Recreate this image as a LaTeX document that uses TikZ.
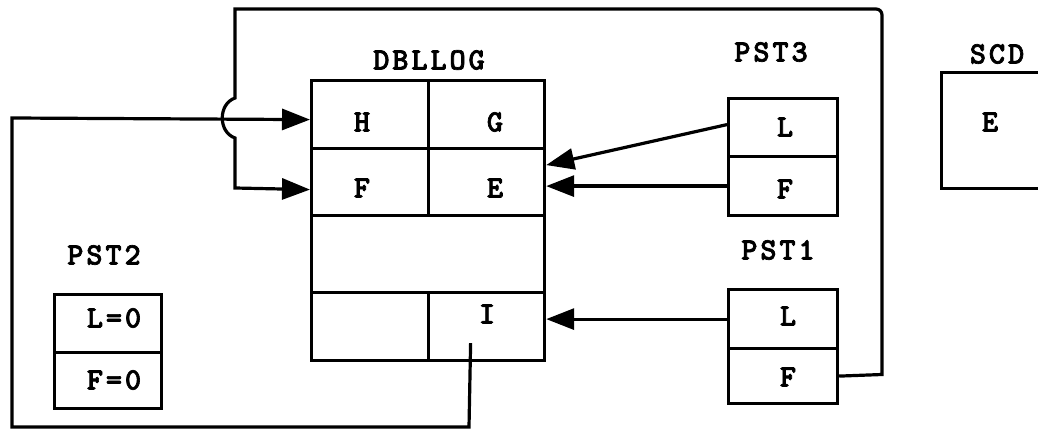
\documentclass[tikz,border=0pt]{standalone}
\usepackage{fontspec}
\newfontfamily\tw{lmmonolt10-bold.otf}[LetterSpace=9, FakeBold=2.2]
\usetikzlibrary{arrows.meta}
\tikzset{
  cell/.style={draw, line width=3.2pt, inner sep=0pt, anchor=north west},
  tx/.style={font=\tw\fontsize{31}{31}\selectfont, inner sep=0pt},
  wire/.style={line width=3.2pt},
  arr/.style={wire, -{Triangle[length=28pt,width=21pt]}}
}
\begin{document}
\begin{tikzpicture}[x=1pt,y=-1pt]
\useasboundingbox (0,0) rectangle (1038,430);
\fill[white] (0,0) rectangle (1038,430);
\clip (0,0) rectangle (1038,430);
% DBLLOG
\node[cell, minimum width=117pt, minimum height=68pt] (cH) at (310,79) {};
\node[cell, minimum width=116pt, minimum height=68pt] (cG) at (427,79) {};
\node[cell, minimum width=117pt, minimum height=67pt] (cF) at (310,147) {};
\node[cell, minimum width=116pt, minimum height=67pt] (cE) at (427,147) {};
\node[cell, minimum width=233pt, minimum height=77pt] (cM) at (310,214) {};
\node[cell, minimum width=117pt, minimum height=68pt] (cX) at (310,291) {};
\node[cell, minimum width=116pt, minimum height=68pt] (cI) at (427,291) {};
\node[tx] (tDB) at (429,60) {DBLLOG};
\node[tx] (tH) at (362,122) {H};
\node[tx] (tG) at (495,122) {G};
\node[tx] (tF) at (362,188) {F};
\node[tx] (tE) at (495,188) {E};
\node[tx] (tI) at (487,314) {I};
% PST3
\node[cell, minimum width=109pt, minimum height=58pt] (p3L) at (727,97) {};
\node[cell, minimum width=109pt, minimum height=59pt] (p3F) at (727,155) {};
\node[tx] (t3) at (771,52) {PST3};
\node[tx] (t3L) at (785,127) {L};
\node[tx] (t3F) at (785,189) {F};
% PST1
\node[cell, minimum width=109pt, minimum height=59pt] (p1L) at (727,288) {};
\node[cell, minimum width=109pt, minimum height=55pt] (p1F) at (727,347) {};
\node[tx] (t1) at (778,250) {PST1};
\node[tx] (t1L) at (788,316) {L};
\node[tx] (t1F) at (788,377) {F};
% PST2
\node[cell, minimum width=107pt, minimum height=58pt] (p2L) at (53,293) {};
\node[cell, minimum width=107pt, minimum height=56pt] (p2F) at (53,351) {};
\node[tx] (t2) at (104,255) {PST2};
\node[tx] (t2L) at (114,318) {L=0};
\node[tx] (t2F) at (114,380) {F=0};
% SCD
\node[cell, minimum width=130pt, minimum height=116pt] (scd) at (940,71) {};
\node[tx] (tS) at (997,54) {SCD};
\node[tx] (tSE) at (990,122) {E};
% connectors
\draw[arr] (p1F.east) -- (882,374.5) -- (882,15) to[out=90,in=0] (876,9) -- (235,9)
  -- (235,98) .. controls (218,104) and (218,132) .. (235,138)
  -- (235,188) -- ([yshift=-7.5pt]cF.west);
\draw[arr] ([xshift=-16pt,yshift=19pt]cI.south) -- (469,427) -- (12,427) -- (12,118)
  -- ([yshift=-5pt]cH.west);
\draw[arr] ([yshift=3pt]p3L.west) -- ([yshift=17pt]cE.east);
\draw[arr] (p3F.west) -- (cE.east |- p3F.west);
\draw[arr] (p1L.west) -- (cI.east |- p1L.west);
\end{tikzpicture}
\end{document}
